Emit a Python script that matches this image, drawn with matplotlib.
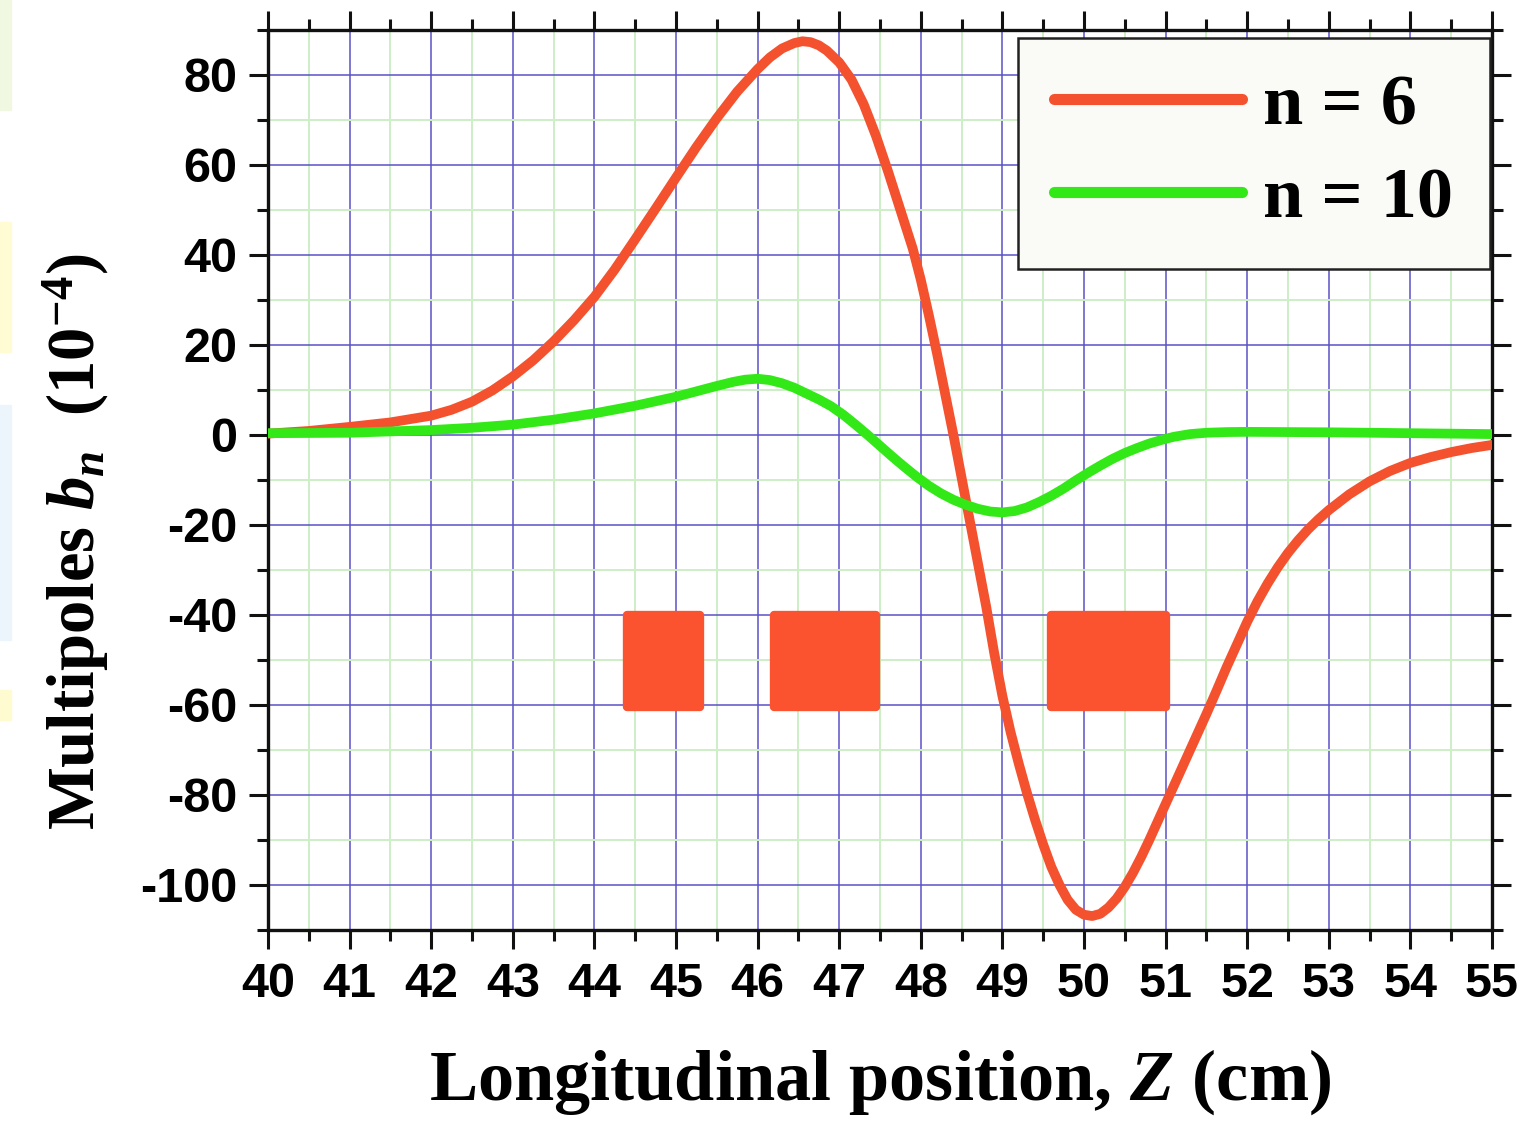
import matplotlib
matplotlib.use("Agg")
import matplotlib.pyplot as plt
from matplotlib.patches import Rectangle
from matplotlib.ticker import MultipleLocator

# Longitudinal position (cm) and multipole coefficient b_6 (1e-4)
z_n6 = [40.0, 40.5, 41.0, 41.5, 42.0, 42.25, 42.5, 42.75, 43.0, 43.25, 43.5,
        43.75, 44.0, 44.25, 44.5, 44.75, 45.0, 45.25, 45.5, 45.75, 46.0,
        46.15, 46.3, 46.45, 46.55, 46.65, 46.75, 46.85, 47.0, 47.15, 47.3,
        47.45, 47.6, 47.75, 47.9, 48.0, 48.1, 48.2, 48.3, 48.4, 48.5, 48.6,
        48.7, 48.8, 48.9, 49.0, 49.1, 49.2, 49.3, 49.4, 49.5, 49.6, 49.7,
        49.8, 49.9, 50.0, 50.1, 50.2, 50.3, 50.4, 50.5, 50.6, 50.7, 50.8,
        50.9, 51.0, 51.125, 51.25, 51.375, 51.5, 51.625, 51.75, 51.875,
        52.0, 52.125, 52.25, 52.375, 52.5, 52.625, 52.75, 52.875, 53.0,
        53.25, 53.5, 53.75, 54.0, 54.25, 54.5, 54.75, 55.0]
b_n6 = [0.3, 0.9, 1.8, 2.8, 4.3, 5.6, 7.4, 9.9, 13.0, 16.6, 20.8,
        25.5, 30.7, 36.8, 43.5, 50.3, 57.2, 64.0, 70.4, 76.3, 81.3,
        83.9, 85.9, 87.1, 87.5, 87.3, 86.6, 85.4, 82.8, 79.0, 73.5,
        66.5, 58.5, 50.0, 41.5, 34.5, 26.5, 18.0, 9.0, 0.0, -9.5, -19.0,
        -28.5, -38.0, -48.5, -58.0, -66.0, -73.0, -79.5, -85.5, -91.0,
        -96.0, -100.0, -103.3, -105.5, -106.6, -106.9, -106.4, -105.0,
        -103.0, -100.4, -97.3, -93.8, -90.0, -86.0, -82.0, -77.0, -72.0,
        -67.0, -62.0, -56.8, -51.5, -46.5, -41.5, -37.0, -33.0, -29.4,
        -26.2, -23.4, -20.9, -18.7, -16.7, -13.2, -10.3, -8.0, -6.2, -4.9,
        -3.8, -2.9, -2.2]

# Longitudinal position (cm) and multipole coefficient b_10 (1e-4)
z_n10 = [40.0, 41.0, 42.0, 42.5, 43.0, 43.5, 44.0, 44.5, 45.0, 45.25, 45.5,
         45.7, 45.85, 46.0, 46.15, 46.3, 46.45, 46.6, 46.75, 46.9, 47.05,
         47.2, 47.35, 47.5, 47.65, 47.8, 47.95, 48.1, 48.25, 48.4, 48.55,
         48.7, 48.85, 49.0, 49.15, 49.3, 49.45, 49.6, 49.75, 49.9, 50.05,
         50.2, 50.35, 50.5, 50.65, 50.8, 50.95, 51.1, 51.3, 51.5, 51.75,
         52.0, 53.0, 54.0, 55.0]
b_n10 = [0.4, 0.5, 1.1, 1.6, 2.3, 3.4, 4.8, 6.5, 8.5, 9.7, 10.9,
         11.8, 12.3, 12.5, 12.2, 11.5, 10.5, 9.2, 7.9, 6.4, 4.5,
         2.3, 0.0, -2.4, -4.8, -7.1, -9.3, -11.3, -13.0, -14.4, -15.5,
         -16.4, -17.0, -17.2, -16.9, -16.1, -14.9, -13.5, -11.9, -10.1, -8.4,
         -6.8, -5.3, -4.0, -2.9, -1.9, -1.1, -0.4, 0.2, 0.5, 0.65,
         0.7, 0.6, 0.4, 0.2]

# Coil blocks: (z start, z end), common vertical span
coil_z = [(44.4, 45.3), (46.2, 47.45), (49.6, 51.0)]
coil_b = (-60.5, -40.0)

series_labels = ["n = 6", "n = 10"]
x_ticks = list(range(40, 56))
y_ticks = list(range(-100, 81, 20))

RED = "#F4512E"
GREEN = "#33E817"
COIL = "#FB5330"

plt.rcParams["axes.unicode_minus"] = False
plt.rcParams["mathtext.fontset"] = "custom"
plt.rcParams["mathtext.rm"] = "Liberation Serif:bold"
plt.rcParams["mathtext.it"] = "Liberation Serif:bold:italic"
plt.rcParams["mathtext.bf"] = "Liberation Serif:bold"

fig = plt.figure(figsize=(15.3, 11.21), dpi=100)
fig.patch.set_facecolor("white")

# faint coloured strips along the left edge of the page
W, H = 1530, 1121
for (y0, h, c) in [(0, 110, "#f1f8e2"), (222, 130, "#fffbd3"),
                   (405, 235, "#edf5fc"), (690, 30, "#fffbd0")]:
    fig.patches.append(Rectangle((0, 1 - (y0 + h) / H), 11 / W, h / H,
                                 transform=fig.transFigure, color=c,
                                 zorder=0))

ax = fig.add_axes([268 / W, 1 - 930 / H, (1492 - 268) / W, 900 / H])
ax.set_xlim(40, 55)
ax.set_ylim(-110, 90)

ax.xaxis.set_major_locator(MultipleLocator(1))
ax.xaxis.set_minor_locator(MultipleLocator(0.5))
ax.yaxis.set_major_locator(MultipleLocator(20))
ax.yaxis.set_minor_locator(MultipleLocator(10))
ax.set_xticks(x_ticks)
ax.set_yticks(y_ticks)

ax.grid(which="minor", color="#cdeec6", lw=1.4, zorder=0)
ax.grid(which="major", color="#5b52c9", lw=1.1, zorder=0.5)
ax.set_axisbelow(True)

for (z0, z1) in coil_z:
    ax.add_patch(Rectangle((z0, coil_b[0]), z1 - z0, coil_b[1] - coil_b[0],
                           facecolor=COIL, edgecolor=COIL, lw=6,
                           joinstyle="round", zorder=2))

ax.plot(z_n6, b_n6, color=RED, lw=7, solid_capstyle="round",
        solid_joinstyle="round", label=series_labels[0], zorder=3)
ax.plot(z_n10, b_n10, color=GREEN, lw=7, solid_capstyle="round",
        solid_joinstyle="round", label=series_labels[1], zorder=3)

for s in ax.spines.values():
    s.set_linewidth(2.4)
    s.set_color("#111111")

ax.tick_params(which="both", direction="out", top=True, right=True,
               width=2.2, color="#111111")
ax.tick_params(which="major", length=14)
ax.tick_params(which="minor", length=8)
ax.tick_params(axis="x", which="major", pad=9)
ax.tick_params(axis="y", which="major", pad=8)
for lab in ax.get_xticklabels() + ax.get_yticklabels():
    lab.set_fontfamily("Liberation Sans")
    lab.set_fontweight("bold")
    lab.set_fontsize(35)

ax.set_xlabel(r"Longitudinal position, $\mathit{Z}$ (cm)",
              fontfamily="Liberation Serif", fontweight="bold", fontsize=52,
              labelpad=29)
ax.set_ylabel(r"Multipoles $\mathit{b}_{\mathit{n}}$  (10$^{\mathrm{-4}}$)",
              fontfamily="Liberation Serif", fontweight="bold", fontsize=48)
ax.yaxis.set_label_coords(-0.128, 0.431)

leg = ax.legend(loc="upper right", bbox_to_anchor=(0.998, 0.991),
                prop={"family": "Liberation Serif", "weight": "bold",
                      "size": 52},
                frameon=True, fancybox=False, framealpha=1,
                edgecolor="#222222", facecolor="#fafaf6",
                handlelength=2.6, handletextpad=0.3, borderpad=0.5,
                labelspacing=0.38, borderaxespad=0)
leg.get_frame().set_linewidth(1.8)
for h in leg.get_lines():
    h.set_linewidth(8)

fig.savefig("out.png", dpi=100)
